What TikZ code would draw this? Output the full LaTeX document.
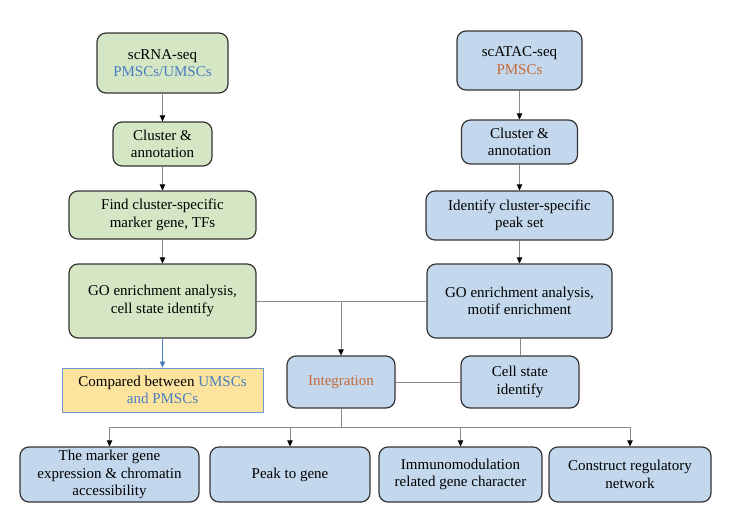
\documentclass[tikz,border=0pt]{standalone}
\usepackage{fontspec}
\setmainfont{Liberation Serif}
\usetikzlibrary{arrows.meta}
\definecolor{gfill}{HTML}{D4E6C4}
\definecolor{bfill}{HTML}{C4D8ED}
\definecolor{yfill}{HTML}{FCE49E}
\definecolor{bordc}{HTML}{353535}
\definecolor{linec}{HTML}{8A8A8A}
\definecolor{bluet}{HTML}{4A7EBF}
\definecolor{oranget}{HTML}{C4693A}
\tikzset{
  box/.style={draw=bordc, line width=1.2pt, rounded corners=9pt, align=center,
    font=\fontsize{15}{17.5}\selectfont, inner sep=1pt},
  gbox/.style={box, fill=gfill},
  bbox/.style={box, fill=bfill},
  ybox/.style={draw=bluet!80, line width=1pt, fill=yfill, align=center,
    font=\fontsize{15}{17.5}\selectfont, inner sep=1pt},
  conn/.style={draw=linec, line width=0.9pt},
  arr/.style={conn, -{Triangle[length=6pt,width=5.5pt,color=black]}},
  barr/.style={draw=bluet, line width=0.9pt, -{Triangle[length=6pt,width=5.5pt,color=bluet]}}
}
\begin{document}
\begin{tikzpicture}[x=1pt,y=-1pt]
\useasboundingbox[fill=white] (0,0) rectangle (731,517);
% left column
\node[gbox, minimum width=131pt, minimum height=60pt] (rna) at (162.5,63) {scRNA-seq\\\textcolor{bluet}{PMSCs/UMSCs}};
\node[gbox, minimum width=99pt, minimum height=44pt] (cl) at (162.5,144) {Cluster \&\\annotation};
\node[gbox, minimum width=187pt, minimum height=48pt] (fl) at (162.5,215) {Find cluster-specific\\marker gene, TFs};
\node[gbox, minimum width=187pt, minimum height=74pt] (gol) at (162.5,301) {GO enrichment analysis,\\cell state identify};
\node[ybox, minimum width=201pt, minimum height=44pt] (cmp) at (162.5,390) {Compared between \textcolor{bluet}{UMSCs}\\\textcolor{bluet}{and PMSCs}};
% right column
\node[bbox, minimum width=125pt, minimum height=59pt] (atac) at (519.5,60.5) {scATAC-seq\\\textcolor{oranget}{PMSCs}};
\node[bbox, minimum width=116pt, minimum height=44pt] (cr) at (519.5,142) {Cluster \&\\annotation};
\node[bbox, minimum width=187pt, minimum height=49pt] (ir) at (519.5,215.5) {Identify cluster-specific\\peak set};
\node[bbox, minimum width=185pt, minimum height=74pt] (gor) at (519.5,301) {GO enrichment analysis,\\motif enrichment};
\node[bbox, minimum width=118pt, minimum height=52pt] (cell) at (520,382) {Cell state\\identify};
\node[bbox, minimum width=108pt, minimum height=52pt] (integ) at (341,382) {\textcolor{oranget}{Integration}};
% bottom row
\node[bbox, minimum width=179pt, minimum height=55pt] (b1) at (109.5,474.5) {The marker gene\\expression \& chromatin\\accessibility};
\node[bbox, minimum width=160pt, minimum height=55pt] (b2) at (290,474.5) {Peak to gene};
\node[bbox, minimum width=163pt, minimum height=55pt] (b3) at (460.5,474.5) {Immunomodulation\\related gene character};
\node[bbox, minimum width=162pt, minimum height=55pt] (b4) at (630,474.5) {Construct regulatory\\network};
% connectors
\draw[arr] (rna) -- (cl);
\draw[arr] (cl) -- (fl);
\draw[arr] (fl) -- (gol);
\draw[barr] (gol) -- (cmp);
\draw[arr] (atac) -- (cr);
\draw[arr] (cr) -- (ir);
\draw[arr] (ir) -- (gor);
\draw[conn] (gol.east) -- (gor.west);
\coordinate (j) at (integ.north |- gol.east);
\draw[arr] (j) -- (integ.north);
\draw[conn] (gor.south -| cell.north) -- (cell.north);
\draw[conn] (integ.east) -- (cell.west);
\coordinate (bus) at (341,427);
\draw[conn] (integ.south) -- (bus);
\draw[conn] (b1.north |- bus) -- (b4.north |- bus);
\draw[arr] (b1.north |- bus) -- (b1.north);
\draw[arr] (b2.north |- bus) -- (b2.north);
\draw[arr] (b3.north |- bus) -- (b3.north);
\draw[arr] (b4.north |- bus) -- (b4.north);
\end{tikzpicture}
\end{document}
